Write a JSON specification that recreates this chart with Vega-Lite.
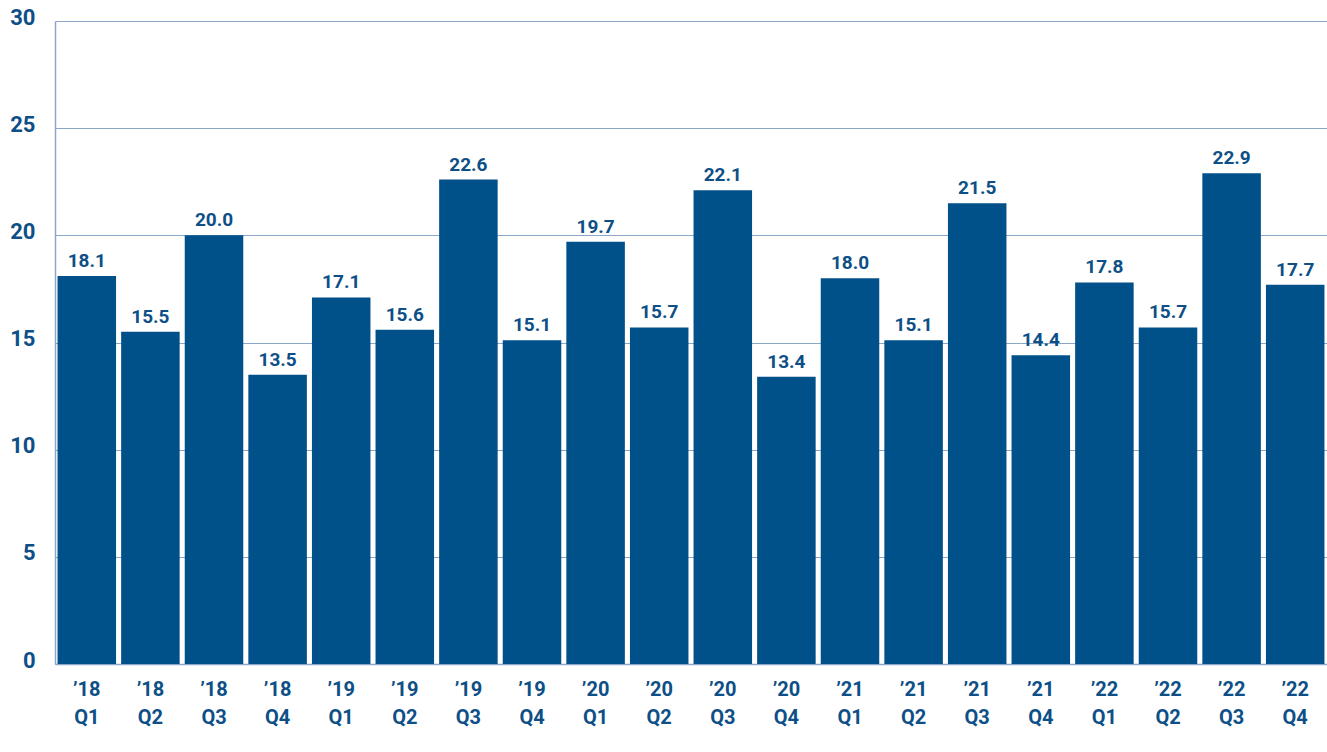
{
  "$schema": "https://vega.github.io/schema/vega-lite/v6.json",
  "width": 1272,
  "height": 643,
  "autosize": {"type": "none"},
  "padding": {"left": 55, "top": 21, "right": 0, "bottom": 88},
  "background": "white",
  "config": {"view": {"stroke": null}, "font": "Roboto"},
  "data": {"values": [
    {"q": "’18 Q1", "v": 18.1}, {"q": "’18 Q2", "v": 15.5}, {"q": "’18 Q3", "v": 20.0}, {"q": "’18 Q4", "v": 13.5},
    {"q": "’19 Q1", "v": 17.1}, {"q": "’19 Q2", "v": 15.6}, {"q": "’19 Q3", "v": 22.6}, {"q": "’19 Q4", "v": 15.1},
    {"q": "’20 Q1", "v": 19.7}, {"q": "’20 Q2", "v": 15.7}, {"q": "’20 Q3", "v": 22.1}, {"q": "’20 Q4", "v": 13.4},
    {"q": "’21 Q1", "v": 18.0}, {"q": "’21 Q2", "v": 15.1}, {"q": "’21 Q3", "v": 21.5}, {"q": "’21 Q4", "v": 14.4},
    {"q": "’22 Q1", "v": 17.8}, {"q": "’22 Q2", "v": 15.7}, {"q": "’22 Q3", "v": 22.9}, {"q": "’22 Q4", "v": 17.7}
  ]},
  "encoding": {
    "x": {"field": "q", "type": "nominal", "sort": null,
      "scale": {"paddingInner": 0.08, "paddingOuter": 0.04},
      "axis": {"title": null, "labelAngle": 0, "labelExpr": "split(datum.label, ' ')",
        "labelFont": "Roboto", "labelFontWeight": "bold", "labelFontSize": 20, "labelLineHeight": 28,
        "labelColor": "#0d4f86", "labelPadding": 15, "ticks": false,
        "domainColor": "#8ba7c8", "domainWidth": 1.5}},
    "y": {"field": "v", "type": "quantitative",
      "scale": {"domain": [0, 30], "nice": false},
      "axis": {"title": null, "values": [0, 5, 10, 15, 20, 25, 30], "ticks": false,
        "labelFont": "Roboto", "labelFontWeight": "bold", "labelFontSize": 22,
        "labelColor": "#0d4f86", "labelPadding": 20, "labelOffset": -4,
        "domainColor": "#8ba7c8", "domainWidth": 1.5,
        "gridColor": "#8ba7c8", "gridWidth": 1.2}}
  },
  "layer": [
    {"mark": {"type": "bar", "color": "#00508a"}},
    {"mark": {"type": "text", "baseline": "alphabetic", "dy": -9, "font": "Roboto", "fontWeight": "bold", "fontSize": 19, "color": "#0d4f86"},
     "encoding": {"text": {"field": "v", "type": "quantitative", "format": ".1f"}}}
  ]
}
